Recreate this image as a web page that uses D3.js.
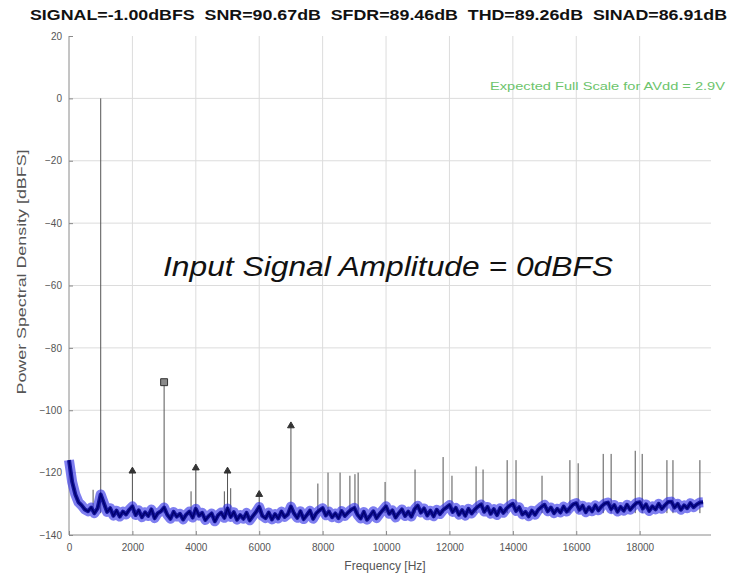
<!DOCTYPE html>
<html>
<head>
<meta charset="utf-8">
<script src="https://cdn.jsdelivr.net/npm/d3@7/dist/d3.min.js"></script>
<style>
  body { margin: 0; background: #fff; }
  svg { display: block; font-family: "Liberation Sans", Arial, sans-serif; }
</style>
</head>
<body>
<svg id="chart" width="733" height="584"></svg>
<script>
// ---- data ----
var titleText = "SIGNAL=-1.00dBFS  SNR=90.67dB  SFDR=89.46dB  THD=89.26dB  SINAD=86.91dB";
var xTicks = [0, 2000, 4000, 6000, 8000, 10000, 12000, 14000, 16000, 18000];
var yTicks = [20, 0, -20, -40, -60, -80, -100, -120, -140];

// noise floor, one value every 100 Hz from 0 to 20000 Hz
var noiseStep = 100;
var noiseDb = [
  -116,-123,-127,-129.5,-130.5,-131.8,-132.4,-131.2,-133,-131.5,
  -127,-129.8,-132.6,-131.4,-133.8,-132.2,-134.1,-132.5,-133.4,-131.9,
  -130.8,-133.6,-132.1,-134.3,-132.7,-133.9,-131.8,-134.6,-133.0,-132.4,
  -131.2,-133.5,-134.8,-132.6,-134.1,-133.2,-135.0,-133.4,-132.5,-134.4,
  -131.6,-133.8,-132.9,-135.2,-134.0,-133.1,-135.6,-133.7,-132.8,-134.5,
  -131.5,-134.2,-132.7,-135.1,-133.6,-134.8,-132.9,-135.3,-133.9,-132.6,
  -131.0,-133.9,-134.6,-132.8,-135.0,-133.3,-134.7,-132.5,-134.2,-133.4,
  -130.9,-133.1,-134.5,-132.4,-134.9,-133.6,-132.2,-134.8,-133.0,-132.1,
  -131.4,-133.7,-132.5,-134.3,-133.1,-134.6,-132.3,-133.9,-132.8,-131.9,
  -131.3,-133.5,-134.7,-132.6,-135.1,-133.8,-132.4,-134.6,-133.2,-132.0,
  -130.8,-133.2,-132.1,-134.4,-133.0,-131.8,-133.9,-132.5,-134.1,-131.7,
  -130.6,-132.8,-131.5,-133.7,-132.2,-134.0,-131.9,-133.3,-132.0,-131.2,
  -130.4,-132.6,-131.3,-133.5,-132.0,-133.8,-131.6,-133.1,-131.8,-130.9,
  -130.2,-132.5,-131.0,-133.2,-131.7,-133.6,-131.4,-132.9,-131.5,-130.6,
  -130.0,-132.3,-131.1,-133.4,-132.6,-134.0,-132.2,-133.5,-131.9,-131.0,
  -130.3,-132.4,-131.2,-133.0,-131.6,-132.8,-130.9,-132.5,-131.3,-130.2,
  -129.8,-131.9,-130.6,-132.7,-131.1,-132.4,-130.5,-132.1,-130.8,-129.9,
  -129.6,-131.7,-130.4,-132.5,-131.0,-132.2,-130.3,-131.9,-130.7,-129.7,
  -129.5,-131.5,-130.2,-132.3,-130.8,-131.8,-130.0,-131.6,-130.4,-129.4,
  -129.3,-131.2,-130.0,-131.9,-130.5,-131.4,-129.8,-131.1,-130.2,-129.6,
  -129.5
];

// spurs rising out of the floor (Hz, top dBFS)
var spurFreq = [760, 1000, 3850, 4900, 5100, 7850, 8170, 8550, 8860, 9020, 9120, 9970,
  10915, 11800, 12080, 12840, 13060, 13820, 14100, 14920, 15800, 16060,
  16850, 17100, 17860, 18080, 18860, 19050, 19900];
var spurDb = [-125.5, 0, -126, -126, -125, -123.5, -120, -120, -121, -120.5, -120, -123,
  -119, -115, -121, -118, -119, -116, -116, -121, -116, -117,
  -114, -114, -113, -114, -116, -116, -116];

// marked harmonics
var harmFreq = [2000, 3000, 4000, 5000, 6000, 7000];
var harmDb = [-119.5, -91, -118.5, -119.5, -127, -105];

var svg = d3.select("#chart");

var x = d3.scaleLinear().domain([0, 20250]).range([69, 711]);
var y = d3.scaleLinear().domain([-140, 20]).range([535, 36]);

// grid
var grid = svg.append("g");
grid.selectAll("line.v").data(xTicks.slice(1)).enter().append("line")
  .attr("x1", d => x(d)).attr("x2", d => x(d))
  .attr("y1", y(20)).attr("y2", y(-140))
  .attr("stroke", "#dcdcdc").attr("stroke-width", 1);
grid.selectAll("line.h").data(yTicks.slice(1, -1)).enter().append("line")
  .attr("x1", x(0)).attr("x2", x.range()[1])
  .attr("y1", d => y(d)).attr("y2", d => y(d))
  .attr("stroke", "#dcdcdc").attr("stroke-width", 1);

// axes
var xAxis = svg.append("g")
  .attr("transform", "translate(0," + y(-140) + ")")
  .call(d3.axisBottom(x).tickValues(xTicks).tickFormat(d3.format("d")).tickSize(-4).tickPadding(9));
var yAxis = svg.append("g")
  .attr("transform", "translate(" + x(0) + ",0)")
  .call(d3.axisLeft(y).tickValues(yTicks).tickSize(-4).tickPadding(7));
[xAxis, yAxis].forEach(function (a) {
  a.select(".domain").attr("stroke", "#8a8a8a");
  a.selectAll(".tick line").attr("stroke", "#8a8a8a");
  a.selectAll(".tick text")
    .attr("fill", "#555")
    .style("font-size", "10px")
    .style("font-family", "'Liberation Sans', Arial, sans-serif");
});
xAxis.select(".domain").attr("d", "M" + x(0) + ",0H" + x.range()[1]);
yAxis.select(".domain").attr("d", "M0," + y(20) + "V" + y(-140));

// spurs
svg.append("g").selectAll("line").data(spurFreq).enter().append("line")
  .attr("x1", d => x(d)).attr("x2", d => x(d))
  .attr("y1", y(-133)).attr("y2", (d, i) => y(spurDb[i]))
  .attr("stroke", "#555").attr("stroke-width", 1);
svg.append("g").selectAll("line").data(harmFreq).enter().append("line")
  .attr("x1", d => x(d)).attr("x2", d => x(d))
  .attr("y1", y(-133)).attr("y2", (d, i) => y(harmDb[i]))
  .attr("stroke", "#555").attr("stroke-width", 1);

// noise floor
var line = d3.line()
  .x((d, i) => x(i * noiseStep))
  .y(d => y(d));
svg.append("path").datum(noiseDb)
  .attr("d", line)
  .attr("fill", "none")
  .attr("stroke", "#2828e6").attr("stroke-opacity", 0.6)
  .attr("stroke-width", 10).attr("stroke-linejoin", "round");
svg.append("path").datum(noiseDb)
  .attr("d", line)
  .attr("fill", "none")
  .attr("stroke", "#14149a").attr("stroke-width", 4).attr("stroke-linejoin", "round");
svg.append("path").datum(noiseDb)
  .attr("d", line)
  .attr("fill", "none")
  .attr("stroke", "#000070").attr("stroke-width", 1.4);

// harmonic markers
svg.append("g").selectAll("path").data(harmFreq).enter().append("path")
  .attr("transform", (d, i) => "translate(" + x(d) + "," + y(harmDb[i]) + ")")
  .attr("d", (d, i) => d3.symbol().type(d === 3000 ? d3.symbolSquare : d3.symbolTriangle)
    .size(d === 3000 ? 48 : 20)())
  .attr("fill", d => d === 3000 ? "#8a8a8a" : "#333")
  .attr("stroke", "#333").attr("stroke-width", 1);

// text
svg.append("text")
  .attr("x", 30).attr("y", 20)
  .attr("textLength", 697).attr("lengthAdjust", "spacingAndGlyphs")
  .style("font-size", "14px").style("font-weight", "bold")
  .style("white-space", "pre")
  .attr("fill", "#111")
  .text(titleText);

svg.append("text")
  .attr("x", 490).attr("y", 90)
  .attr("textLength", 235).attr("lengthAdjust", "spacingAndGlyphs")
  .style("font-size", "11.5px")
  .attr("fill", "#6cc46c")
  .text("Expected Full Scale for AVdd = 2.9V");

svg.append("text")
  .attr("x", 163).attr("y", 276)
  .attr("textLength", 450).attr("lengthAdjust", "spacingAndGlyphs")
  .style("font-size", "27px").style("font-style", "italic")
  .attr("fill", "#111")
  .text("Input Signal Amplitude = 0dBFS");

svg.append("text")
  .attr("transform", "translate(26,272) rotate(-90)")
  .attr("text-anchor", "middle")
  .attr("textLength", 245).attr("lengthAdjust", "spacingAndGlyphs")
  .style("font-size", "12px")
  .attr("fill", "#555")
  .text("Power Spectral Density [dBFS]");

svg.append("text")
  .attr("x", 385).attr("y", 570)
  .attr("text-anchor", "middle")
  .style("font-size", "12px")
  .attr("fill", "#555")
  .text("Frequency [Hz]");
</script>
</body>
</html>
